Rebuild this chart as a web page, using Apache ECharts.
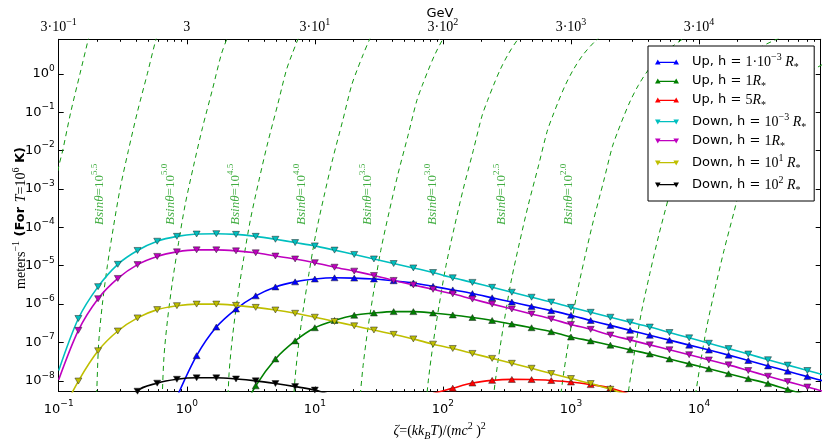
<!DOCTYPE html>
<html><head><meta charset="utf-8">
<script src="https://cdn.jsdelivr.net/npm/echarts@6/dist/echarts.min.js"></script>
<style>html,body{margin:0;padding:0;background:#fff}#c{width:830px;height:446px}</style>
</head><body><div id="c"></div>
<script>
// zeta grid of the markers (log spaced, 0.1 .. 1e5)
const zeta = [0.1,0.1425,0.2031,0.2894,0.4125,0.5878,0.8377,1.194,1.701,2.424,3.455,4.924,7.017,10,14.25,20.31,28.94,41.25,58.78,83.77,119.4,170.1,242.4,345.5,492.4,701.7,1000,1425,2031,2894,4125,5878,8377,11940,17010,24240,34550,49240,70170,100000];

const upH1e3 = [null,null,null,null,null,null,3.80e-9,4.53e-8,2.52e-7,7.45e-7,1.64e-6,2.80e-6,3.80e-6,4.50e-6,4.85e-6,4.76e-6,4.50e-6,4.06e-6,3.55e-6,2.90e-6,2.34e-6,1.88e-6,1.46e-6,1.13e-6,8.71e-7,6.76e-7,5.13e-7,3.74e-7,2.79e-7,2.07e-7,1.54e-7,1.15e-7,8.53e-8,6.34e-8,4.68e-8,3.39e-8,2.45e-8,1.78e-8,1.29e-8,9.33e-9];
const upH1 = [null,null,null,null,null,null,null,null,null,7.94e-10,7.41e-9,3.72e-8,1.10e-7,2.42e-7,3.74e-7,5.13e-7,5.87e-7,6.37e-7,6.37e-7,5.87e-7,5.22e-7,4.47e-7,3.74e-7,3.01e-7,2.42e-7,1.91e-7,1.39e-7,1.10e-7,8.51e-8,6.46e-8,5.01e-8,3.72e-8,2.77e-8,2.06e-8,1.53e-8,1.14e-8,8.47e-9,5.94e-9,4.27e-9,null];
const upH5 = [null,null,null,null,null,null,null,null,null,null,null,null,null,null,null,null,null,null,null,4.68e-9,6.46e-9,8.79e-9,1.03e-8,1.09e-8,1.08e-8,1.02e-8,9.33e-9,7.98e-9,6.53e-9,4.47e-9,null,null,null,null,null,null,null,null,null,null];
const downH1e3 = [1.86e-8,4.22e-7,2.85e-6,1.09e-5,2.50e-5,4.35e-5,5.83e-5,6.70e-5,6.84e-5,6.56e-5,5.83e-5,4.89e-5,4.01e-5,3.29e-5,2.55e-5,1.97e-5,1.50e-5,1.14e-5,8.77e-6,6.65e-6,4.85e-6,3.68e-6,2.74e-6,2.04e-6,1.51e-6,1.13e-6,8.22e-7,6.12e-7,4.55e-7,3.39e-7,2.52e-7,1.82e-7,1.32e-7,9.55e-8,6.92e-8,5.01e-8,3.55e-8,2.57e-8,1.86e-8,1.35e-8];
const downH1 = [1.07e-8,2.07e-7,1.38e-6,4.66e-6,1.07e-5,1.75e-5,2.30e-5,2.59e-5,2.59e-5,2.44e-5,2.17e-5,1.79e-5,1.50e-5,1.20e-5,9.14e-6,7.23e-6,5.57e-6,4.14e-6,3.16e-6,2.43e-6,1.85e-6,1.35e-6,1.00e-6,7.45e-7,5.53e-7,4.11e-7,2.95e-7,2.20e-7,1.57e-7,1.17e-7,8.67e-8,6.46e-8,4.80e-8,3.51e-8,2.61e-8,1.86e-8,1.32e-8,9.55e-9,6.92e-9,5.01e-9];
const downH10 = [1.00e-9,9.89e-9,6.08e-8,1.99e-7,4.37e-7,7.18e-7,9.10e-7,1.00e-6,1.00e-6,9.27e-7,8.22e-7,7.02e-7,5.77e-7,4.55e-7,3.53e-7,2.72e-7,2.11e-7,1.63e-7,1.24e-7,9.04e-8,6.98e-8,5.19e-8,3.85e-8,2.87e-8,2.13e-8,1.55e-8,1.15e-8,8.51e-9,6.03e-9,4.17e-9,null,null,null,null,null,null,null,null,null,null];
const downH100 = [null,null,null,3.16e-10,5.37e-9,8.71e-9,1.10e-8,1.20e-8,1.20e-8,1.12e-8,1.00e-8,8.51e-9,7.08e-9,5.75e-9,3.98e-9,null,null,null,null,null,null,null,null,null,null,null,null,null,null,null,null,null,null,null,null,null,null,null,null,null];

// B sin(theta) reference curves, read as [log10 zeta, log10 meters^-1]
const bLine60 = [[-1.03,-3.0],[-1.0,-2.42],[-0.969,-2.0],[-0.906,-1.0],[-0.834,0],[-0.769,0.9],[-0.74,1.3]];
const bLine55 = [[-0.707,-8.6],[-0.703,-8.28],[-0.6875,-7],[-0.659,-6],[-0.620,-5],[-0.573,-4],[-0.521,-3],[-0.456,-2],[-0.386,-1],[-0.308,0],[-0.240,0.9],[-0.197,1.3]];
const bLine50 = [[-0.194,-8.68],[-0.1785,-7.4],[-0.150,-6.4],[-0.111,-5.4],[-0.064,-4.4],[-0.012,-3.4],[0.053,-2.4],[0.123,-1.4],[0.201,-0.4],[0.269,0.5],[0.312,0.9],[0.359,1.3]];
const bLine45 = [[0.315,-9.08],[0.3305,-7.8],[0.359,-6.8],[0.398,-5.8],[0.445,-4.8],[0.497,-3.8],[0.562,-2.8],[0.632,-1.8],[0.710,-0.8],[0.778,0.1],[0.821,0.5],[0.868,0.9],[0.919,1.3]];
const bLine40 = [[0.824,-9.48],[0.8395,-8.2],[0.868,-7.2],[0.907,-6.2],[0.954,-5.2],[1.006,-4.2],[1.071,-3.2],[1.141,-2.2],[1.219,-1.2],[1.287,-0.3],[1.330,0.1],[1.377,0.5],[1.428,0.9],[1.490,1.3]];
const bLine35 = [[1.3485,-8.6],[1.377,-7.6],[1.416,-6.6],[1.463,-5.6],[1.515,-4.6],[1.580,-3.6],[1.650,-2.6],[1.728,-1.6],[1.796,-0.7],[1.839,-0.3],[1.886,0.1],[1.937,0.5],[1.999,0.9],[2.077,1.3]];
const bLine30 = [[1.8575,-9.0],[1.886,-8.0],[1.925,-7.0],[1.972,-6.0],[2.024,-5.0],[2.089,-4.0],[2.159,-3.0],[2.237,-2.0],[2.305,-1.1],[2.348,-0.7],[2.395,-0.3],[2.446,0.1],[2.508,0.5],[2.586,0.9],[2.696,1.3]];
const bLine25 = [[2.3665,-9.4],[2.395,-8.4],[2.434,-7.4],[2.481,-6.4],[2.533,-5.4],[2.598,-4.4],[2.668,-3.4],[2.746,-2.4],[2.814,-1.5],[2.857,-1.1],[2.904,-0.7],[2.955,-0.3],[3.017,0.1],[3.095,0.5],[3.205,0.9],[3.361,1.3]];
const bLine20 = [[2.904,-8.8],[2.943,-7.8],[2.990,-6.8],[3.042,-5.8],[3.107,-4.8],[3.177,-3.8],[3.255,-2.8],[3.323,-1.9],[3.366,-1.5],[3.413,-1.1],[3.464,-0.7],[3.526,-0.3],[3.604,0.1],[3.714,0.5],[3.870,0.9],[4.097,1.3]];
const bLine15 = [[3.413,-9.2],[3.452,-8.2],[3.499,-7.2],[3.551,-6.2],[3.616,-5.2],[3.686,-4.2],[3.764,-3.2],[3.832,-2.3],[3.875,-1.9],[3.922,-1.5],[3.973,-1.1],[4.035,-0.7],[4.113,-0.3],[4.223,0.1],[4.379,0.5],[4.606,0.9],[4.95,1.3]];
const bLine10 = [[3.961,-8.6],[4.008,-7.6],[4.060,-6.6],[4.125,-5.6],[4.195,-4.6],[4.273,-3.6],[4.341,-2.7],[4.384,-2.3],[4.431,-1.9],[4.482,-1.5],[4.544,-1.1],[4.622,-0.7],[4.732,-0.3],[4.888,0.1],[5.115,0.5]];
const bLabelExp = ['5.5','5.0','4.5','4.0','3.5','3.0','2.5','2.0'];
const bLabelLogZeta = [-0.68,-0.126,0.382,0.898,1.413,1.921,2.46,2.984];
const bLabelLogMu = -3.14;

const xTickExp = [-1,0,1,2,3,4];
const yTickExp = [-8,-7,-6,-5,-4,-3,-2,-1,0];
const topTickLabels = ['3·10^−1','3','3·10^1','3·10^2','3·10^3','3·10^4'];

const X_MIN=-1, X_MAX=4.95, Y_MIN=-8.28, Y_MAX=0.90;
// target plot frame in pixels
const FRAME = {left:58.7, right:820.7, top:39.3, bottom:396.7};
const minorX=[];
for(let n=-1;n<=4;n++){for(let k=2;k<=9;k++){const v=n+Math.log10(k); if(v<X_MAX) minorX.push(v);}}

const L=20;
const richBase = {
  b:{fontFamily:'DejaVu Sans',fontSize:13,lineHeight:L,verticalAlign:'middle',color:'#000'},
  s:{fontFamily:'DejaVu Sans',fontSize:9,lineHeight:L,verticalAlign:'top',color:'#000'},
  m:{fontFamily:'Liberation Serif',fontSize:14,lineHeight:L,verticalAlign:'middle',color:'#000'},
  ms:{fontFamily:'Liberation Serif',fontSize:10,lineHeight:L,verticalAlign:'top',color:'#000'}
};
const sgn = v => (v<0?'−':'')+Math.abs(v);

const legendRich = {
  t:{fontFamily:'DejaVu Sans',fontSize:13,lineHeight:L,verticalAlign:'middle',padding:[0,0,0,8]},
  m:{fontFamily:'Liberation Serif',fontSize:14,lineHeight:L,verticalAlign:'middle'},
  mi:{fontFamily:'Liberation Serif',fontStyle:'italic',fontSize:14,lineHeight:L,verticalAlign:'middle'},
  sup:{fontFamily:'Liberation Serif',fontSize:10,lineHeight:L,verticalAlign:'top'},
  sub:{fontFamily:'Liberation Serif',fontSize:10,lineHeight:L,verticalAlign:'bottom'}
};
const upIcon='path://M0,10 L3.5,4 L7,10 Z M3.5,6.6 L26.5,6.6 L26.5,8.2 L3.5,8.2 Z M23,10 L26.5,4 L30,10 Z';
const downIcon='path://M0,4 L7,4 L3.5,10 Z M3.5,5.8 L26.5,5.8 L26.5,7.4 L3.5,7.4 Z M23,4 L30,4 L26.5,10 Z';

const curves = [
  {name:'Up, h = 1e-3', color:'#0000ff', dir:'up', vals:upH1e3, text:'{t|Up, h = }{m|1·10}{sup|−3}{mi| R}{sub|*}'},
  {name:'Up, h = 1', color:'#008000', dir:'up', vals:upH1, text:'{t|Up, h = }{m|1}{mi|R}{sub|*}'},
  {name:'Up, h = 5', color:'#ff0000', dir:'up', vals:upH5, text:'{t|Up, h = }{m|5}{mi|R}{sub|*}'},
  {name:'Down, h = 1e-3', color:'#00bfbf', dir:'down', vals:downH1e3, text:'{t|Down, h = }{m|10}{sup|−3}{mi| R}{sub|*}'},
  {name:'Down, h = 1', color:'#bf00bf', dir:'down', vals:downH1, text:'{t|Down, h = }{m|1}{mi|R}{sub|*}'},
  {name:'Down, h = 10', color:'#bfbf00', dir:'down', vals:downH10, text:'{t|Down, h = }{m|10}{sup|1}{mi| R}{sub|*}'},
  {name:'Down, h = 100', color:'#000000', dir:'down', vals:downH100, text:'{t|Down, h = }{m|10}{sup|2}{mi| R}{sub|*}'}
];
const legendText = {}; curves.forEach(c=>legendText[c.name]=c.text);

function pts(vals){
  const out=[];
  vals.forEach((v,i)=>{ if(v==null) return; const p=[Math.log10(zeta[i]),Math.log10(v)];
    out.push(Math.abs(p[0]-X_MIN)<1e-6?{value:p,symbol:'none'}:p); });
  return out;
}

const series=[];
[bLine60,bLine55,bLine50,bLine45,bLine40,bLine35,bLine30,bLine25,bLine20,bLine15,bLine10].forEach(d=>{
  series.push({type:'line',data:d,showSymbol:false,symbol:'none',smooth:0.3,clip:true,silent:true,z:1,
    lineStyle:{color:'#119911',width:1,type:[5,4]}});
});
series.push({type:'scatter',symbolSize:0,silent:true,z:3,
  data:bLabelLogZeta.map((x,i)=>[x,bLabelLogMu,bLabelExp[i]]),
  label:{show:true,position:'inside',rotate:90,color:'#119911',
    formatter:p=>'{i|Bsinθ}{m|=10}{s|'+p.value[2]+'}',
    rich:{i:{fontFamily:'Liberation Serif',fontStyle:'italic',fontSize:13,lineHeight:L,verticalAlign:'middle',color:'#119911'},
          m:{fontFamily:'Liberation Serif',fontSize:13,lineHeight:L,verticalAlign:'middle',color:'#119911'},
          s:{fontFamily:'Liberation Serif',fontSize:9,lineHeight:L,verticalAlign:'top',color:'#119911'}}}
});
curves.forEach(c=>{
  series.push({type:'line',name:c.name,data:pts(c.vals),smooth:0.3,clip:true,z:5,
    symbol:'triangle',symbolSize:[7,6],symbolRotate:c.dir==='up'?0:180,
    lineStyle:{color:c.color,width:1.6},
    itemStyle:{color:c.color,borderColor:'#222',borderWidth:0.5}});
});

const baseX = {type:'value',min:X_MIN,max:X_MAX,splitLine:{show:false}};
const baseY = {type:'value',min:Y_MIN,max:Y_MAX,splitLine:{show:false}};
const W=830, H=446;
const gridOpt = {left:FRAME.left, right:W-FRAME.right, top:FRAME.top, bottom:H-FRAME.bottom};
const option = {
  animation:false,
  backgroundColor:'#fff',
  grid:Object.assign({},gridOpt),
  graphic:[
    {type:'text',x:21,y:218,rotation:Math.PI/2,silent:true,
      style:{text:'{m|meters}{sup|−1}{b| (For }{i|T}{m|=10}{sup|6}{b| K)}',align:'center',verticalAlign:'middle',
        textAlign:'center',textVerticalAlign:'middle',
        rich:{
          m:{fontFamily:'Liberation Serif',fontSize:14,lineHeight:L,verticalAlign:'middle',fill:'#000'},
          i:{fontFamily:'Liberation Serif',fontStyle:'italic',fontSize:14,lineHeight:L,verticalAlign:'middle',fill:'#000'},
          sup:{fontFamily:'Liberation Serif',fontSize:10,lineHeight:L,verticalAlign:'top',fill:'#000'},
          b:{fontFamily:'DejaVu Sans',fontWeight:'bold',fontSize:13,lineHeight:L,verticalAlign:'middle',fill:'#000'}}}},
    {type:'text',x:440,y:14,silent:true,
      style:{text:'GeV',align:'center',verticalAlign:'middle',textAlign:'center',textVerticalAlign:'middle',
        font:'13px "DejaVu Sans"',fill:'#000'}}
  ],
  xAxis:[
    Object.assign({},baseX,{position:'bottom',
      axisLine:{show:true,onZero:false,lineStyle:{color:'#000',width:1}},
      axisTick:{show:true,inside:true,length:5,customValues:xTickExp,lineStyle:{color:'#000'}},
      axisLabel:{show:true,margin:8,customValues:xTickExp,formatter:v=>'{b|10}{s|'+sgn(Math.round(v))+'}',rich:richBase},
      name:'{i|ζ}{m|=(}{i|kk}{sub|B}{i|T}{m|)/(}{i|mc}{sup|2}{m| )}{sup|2}',nameLocation:'middle',nameGap:26,
      nameTextStyle:{rich:{
        i:{fontFamily:'Liberation Serif',fontStyle:'italic',fontSize:14,lineHeight:L,verticalAlign:'middle',color:'#000'},
        m:{fontFamily:'Liberation Serif',fontSize:14,lineHeight:L,verticalAlign:'middle',color:'#000'},
        sup:{fontFamily:'Liberation Serif',fontSize:10,lineHeight:L,verticalAlign:'top',color:'#000'},
        sub:{fontFamily:'Liberation Serif',fontStyle:'italic',fontSize:10,lineHeight:L,verticalAlign:'bottom',color:'#000'}}}
    }),
    Object.assign({},baseX,{position:'top',
      axisLine:{show:true,onZero:false,lineStyle:{color:'#000',width:1}},
      axisTick:{show:true,inside:true,length:5,customValues:xTickExp,lineStyle:{color:'#000'}},
      axisLabel:{show:true,margin:2,customValues:xTickExp,formatter:v=>{
        const s=topTickLabels[xTickExp.indexOf(Math.round(v))]||''; const p=s.split('^');
        return p.length>1?'{m|'+p[0]+'}{ms|'+p[1]+'}':'{m|'+p[0]+'}';},rich:richBase}
    }),
    Object.assign({},baseX,{position:'bottom',axisLine:{show:false,onZero:false},axisLabel:{show:false},
      axisTick:{show:true,inside:true,length:2.5,customValues:minorX,lineStyle:{color:'#000'}}}),
    Object.assign({},baseX,{position:'top',axisLine:{show:false,onZero:false},axisLabel:{show:false},
      axisTick:{show:true,inside:true,length:2.5,customValues:minorX,lineStyle:{color:'#000'}}})
  ],
  yAxis:[
    Object.assign({},baseY,{position:'left',
      axisLine:{show:true,onZero:false,lineStyle:{color:'#000',width:1}},
      axisTick:{show:true,inside:true,length:5,customValues:yTickExp,lineStyle:{color:'#000'}},
      axisLabel:{show:true,margin:4,customValues:yTickExp,formatter:v=>'{b|10}{s|'+sgn(Math.round(v))+'}',rich:richBase}
    }),
    Object.assign({},baseY,{position:'right',
      axisLine:{show:true,onZero:false,lineStyle:{color:'#000',width:1}},
      axisTick:{show:true,inside:true,length:5,customValues:yTickExp,lineStyle:{color:'#000'}},
      axisLabel:{show:false}})
  ],
  legend:{
    orient:'vertical',left:648,top:46,padding:[6,8,6,7],itemGap:2.0,
    itemWidth:24,itemHeight:6,
    backgroundColor:'#fff',borderColor:'#000',borderWidth:1,borderRadius:0,
    itemStyle:{borderWidth:0},
    data:curves.map(c=>({name:c.name,icon:c.dir==='up'?upIcon:downIcon})),
    formatter:n=>legendText[n],
    textStyle:{rich:legendRich,color:'#000'}
  },
  series:series
};
const chart=echarts.init(document.getElementById('c'),null,{renderer:'canvas'});
chart.setOption(option);
// make sure the plotted frame lands exactly on the target pixel frame
for(let it=0; it<4; it++){
  const xl=chart.convertToPixel({xAxisIndex:0},X_MIN), xr=chart.convertToPixel({xAxisIndex:0},X_MAX);
  const yt=chart.convertToPixel({yAxisIndex:0},Y_MAX), yb=chart.convertToPixel({yAxisIndex:0},Y_MIN);
  if(!isFinite(xl)||!isFinite(xr)||!isFinite(yt)||!isFinite(yb)) break;
  const dl=FRAME.left-xl, dr=xr-FRAME.right, dt=FRAME.top-yt, db=yb-FRAME.bottom;
  if(Math.abs(dl)+Math.abs(dr)+Math.abs(dt)+Math.abs(db)<0.2) break;
  gridOpt.left+=dl; gridOpt.right+=dr; gridOpt.top+=dt; gridOpt.bottom+=db;
  chart.setOption({grid:Object.assign({},gridOpt)});
}
</script></body></html>
